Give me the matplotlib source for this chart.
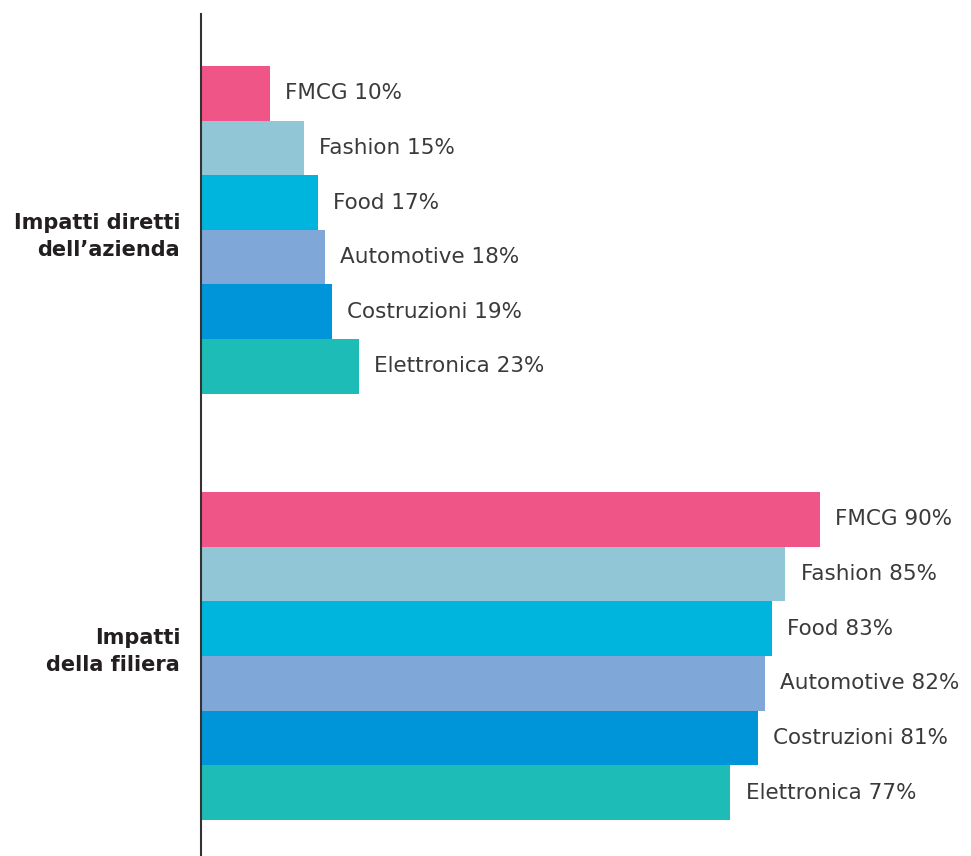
import numpy as np
import matplotlib.pyplot as plt

categories = ['FMCG', 'Fashion', 'Food', 'Automotive', 'Costruzioni', 'Elettronica']
diretti = [10, 15, 17, 18, 19, 23]
filiera = [90, 85, 83, 82, 81, 77]
group_labels = ['Impatti diretti\ndell\u2019azienda', 'Impatti\ndella filiera']
colors = ['#EF5586', '#90C6D5', '#00B5DD', '#7FA7D7', '#0095D8', '#1EBCB7']

plt.rcParams['font.family'] = ['DejaVu Sans']

fig = plt.figure(figsize=(9.71, 8.56), dpi=100)
ax = fig.add_axes([201 / 971, 0, 1 - 201 / 971, 842 / 856])

gap = 1.8
pos1 = np.arange(len(categories))
pos2 = pos1 + len(categories) + gap

for pos, vals in [(pos1, diretti), (pos2, filiera)]:
    ax.barh(pos, vals, height=1.0, color=colors, edgecolor='none')
    for y, v, c in zip(pos, vals, categories):
        ax.annotate('%s %d%%' % (c, v), (v, y), xytext=(11, 0),
                    textcoords='offset points', va='center', ha='left',
                    fontsize=15.5, color='#3a3a3a')

# small vertical nudges so the group titles sit like in the original
for pos, lab, dy in zip([pos1, pos2], group_labels, [-5, 3]):
    ax.annotate(lab, (0, pos.mean()), xytext=(-15, dy), textcoords='offset points',
                ha='right', va='center', fontsize=15, fontweight='bold',
                color='#231f20', linespacing=1.45, annotation_clip=False)

ax.set_xlim(0, 112)
ax.set_ylim(pos2[-1] + 0.5 + 0.66, -1.45)
for s in ['top', 'right', 'bottom']:
    ax.spines[s].set_visible(False)
ax.spines['left'].set_color('#333333')
ax.spines['left'].set_linewidth(1.5)
ax.set_xticks([])
ax.set_yticks([])

fig.savefig('out.png', dpi=100)
